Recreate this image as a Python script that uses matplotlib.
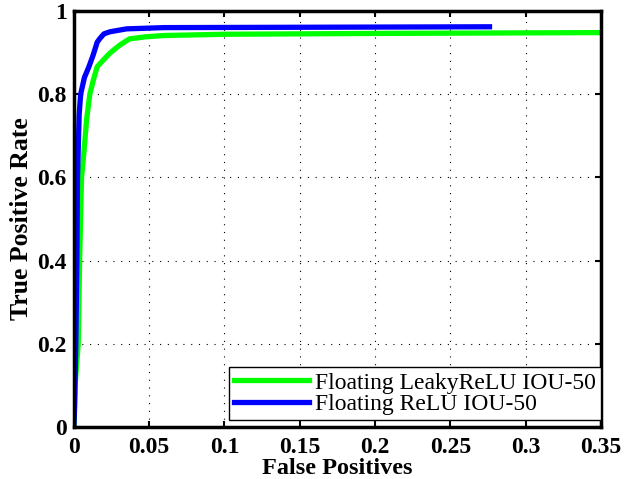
import numpy as np
import matplotlib as mpl
mpl.use('Agg')
import matplotlib.pyplot as plt

# ROC-like curves
fp_leaky = [0, 0.0008, 0.0029, 0.0038, 0.0051, 0.0068, 0.0085, 0.0106, 0.013, 0.0155,
            0.019, 0.024, 0.0305, 0.037, 0.048, 0.06, 0.1, 0.2, 0.35]
tp_leaky = [0, 0.10, 0.20, 0.40, 0.60, 0.666, 0.74, 0.80, 0.835, 0.866,
            0.88, 0.899, 0.918, 0.933, 0.938, 0.941, 0.944, 0.946, 0.948]

fp_relu = [0, 0.0005, 0.0010, 0.0013, 0.0020, 0.0024, 0.0029, 0.0035, 0.0045, 0.007,
           0.010, 0.0128, 0.0155, 0.0173, 0.0200, 0.024, 0.035, 0.06, 0.276]
tp_relu = [0, 0.05, 0.15, 0.20, 0.40, 0.60, 0.666, 0.75, 0.80, 0.84,
           0.866, 0.894, 0.925, 0.934, 0.945, 0.950, 0.957, 0.960, 0.962]

labels = ['Floating LeakyReLU IOU-50', 'Floating ReLU IOU-50']

plt.rcParams['font.family'] = ['Liberation Serif', 'DejaVu Serif']

fig = plt.figure(figsize=(6.26, 4.79), dpi=100)
ax = fig.add_axes([0.118, 0.1086, 0.842, 0.8685])

ax.plot(fp_leaky, tp_leaky, color='#00ff00', linewidth=3.8, label=labels[0])
ax.plot(fp_relu, tp_relu, color='#0000ff', linewidth=3.8, label=labels[1])

ax.set_xlim(0, 0.35)
ax.set_ylim(0, 1)
ax.set_xticks(np.arange(0, 0.36, 0.05))
ax.set_xticklabels(['0', '0.05', '0.1', '0.15', '0.2', '0.25', '0.3', '0.35'])
ax.set_yticks(np.arange(0, 1.01, 0.2))
ax.set_yticklabels(['0', '0.2', '0.4', '0.6', '0.8', '1'])

ax.grid(color='black', linestyle=(0, (1, 6)), linewidth=0.8)
ax.tick_params(direction='in', length=4, width=1.5, top=True, right=True,
               labelsize=17, pad=5)
ax.tick_params(axis='x', pad=7)
for lab in ax.get_xticklabels() + ax.get_yticklabels():
    lab.set_fontweight('bold')
for sp in ax.spines.values():
    sp.set_linewidth(2.5)

ax.set_xlabel('False Positives', fontsize=17.5, fontweight='bold', labelpad=0)
ax.set_ylabel('True Positive Rate', fontsize=18.5, fontweight='bold', labelpad=3)

leg = ax.legend(loc='lower right', bbox_to_anchor=(1.0, 0.017), fontsize=17,
                fancybox=False, framealpha=1, edgecolor='black',
                handlelength=3.2, handletextpad=0.25, borderpad=0.2,
                labelspacing=0.0, borderaxespad=0)
leg.get_frame().set_linewidth(1.0)

plt.savefig('out.png', dpi=100)
